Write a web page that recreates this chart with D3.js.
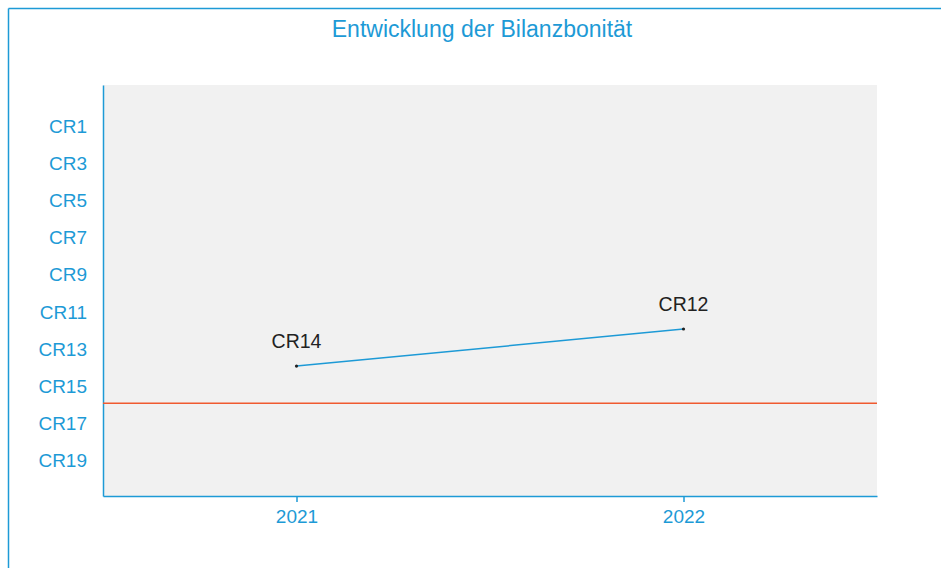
<!DOCTYPE html>
<html><head><meta charset="utf-8">
<script src="https://cdn.jsdelivr.net/npm/d3@7"></script>
<style>html,body{margin:0;padding:0;background:#fff;}</style>
</head><body>
<svg id="c" width="941" height="568"></svg>
<script>
const years = ["2021", "2022"];
const ratings = [14, 12];
const pointLabels = ["CR14", "CR12"];
const thresholdRating = 16;
const yTickValues = [1, 3, 5, 7, 9, 11, 13, 15, 17, 19];
const title = "Entwicklung der Bilanzbonität";

(function () {
const blue = "#1d9ad6";
const svg = d3.select("#c");
const font = "'Liberation Sans', Arial, sans-serif";

// outer frame (top and left edges)
svg.append("line").attr("x1", 8.5).attr("x2", 941).attr("y1", 8.5).attr("y2", 8.5).attr("stroke", blue).attr("stroke-width", 1.5);
svg.append("line").attr("x1", 8.5).attr("x2", 8.5).attr("y1", 8.5).attr("y2", 568).attr("stroke", blue).attr("stroke-width", 1.5);

const pLeft = 103, pRight = 877, pTop = 85, pBottom = 496;
const x = d3.scalePoint().domain(years).range([pLeft, pRight]).padding(0.5);
const y = d3.scaleLinear().domain([-1.15, 21]).range([pTop, pBottom]);

svg.append("rect").attr("x", pLeft).attr("y", pTop).attr("width", pRight - pLeft).attr("height", pBottom - pTop).attr("fill", "#f1f1f1");

svg.append("text").attr("x", 482).attr("y", 37).attr("text-anchor", "middle")
  .attr("fill", blue).attr("font-family", font).attr("font-size", 23).text(title);

// y axis
const yAxis = svg.append("g").attr("transform", `translate(${pLeft},0)`)
  .call(d3.axisLeft(y).tickValues(yTickValues).tickSize(0).tickPadding(16).tickFormat(d => "CR" + d));
yAxis.select(".domain").attr("stroke", blue).attr("stroke-width", 1.5);
yAxis.selectAll("text").attr("fill", blue).attr("font-family", font).attr("font-size", 19).attr("dy", "0.4em");

// x axis
const xAxis = svg.append("g").attr("transform", `translate(0,${pBottom})`)
  .call(d3.axisBottom(x).tickSizeInner(6).tickSizeOuter(0).tickPadding(8));
xAxis.select(".domain").attr("stroke", blue).attr("stroke-width", 1.5);
xAxis.selectAll(".tick line").attr("stroke", blue).attr("stroke-width", 1.5);
xAxis.selectAll("text").attr("fill", blue).attr("font-family", font).attr("font-size", 19);

// threshold line
svg.append("line").attr("x1", pLeft).attr("x2", pRight).attr("y1", y(thresholdRating)).attr("y2", y(thresholdRating))
  .attr("stroke", "#f05a30").attr("stroke-width", 1.5);

const pts = years.map((yr, i) => ({yr, v: ratings[i], lab: pointLabels[i]}));
svg.append("path").datum(pts).attr("fill", "none").attr("stroke", blue).attr("stroke-width", 1.5)
  .attr("d", d3.line().x(d => x(d.yr)).y(d => y(d.v)));
svg.selectAll(".pt").data(pts).enter().append("circle").attr("cx", d => x(d.yr)).attr("cy", d => y(d.v))
  .attr("r", 1.6).attr("fill", "#222");
svg.selectAll(".lab").data(pts).enter().append("text").attr("x", d => x(d.yr)).attr("y", d => y(d.v) - 18)
  .attr("text-anchor", "middle").attr("fill", "#222").attr("font-family", font).attr("font-size", 19.5).text(d => d.lab);
})();
</script>
</body></html>
